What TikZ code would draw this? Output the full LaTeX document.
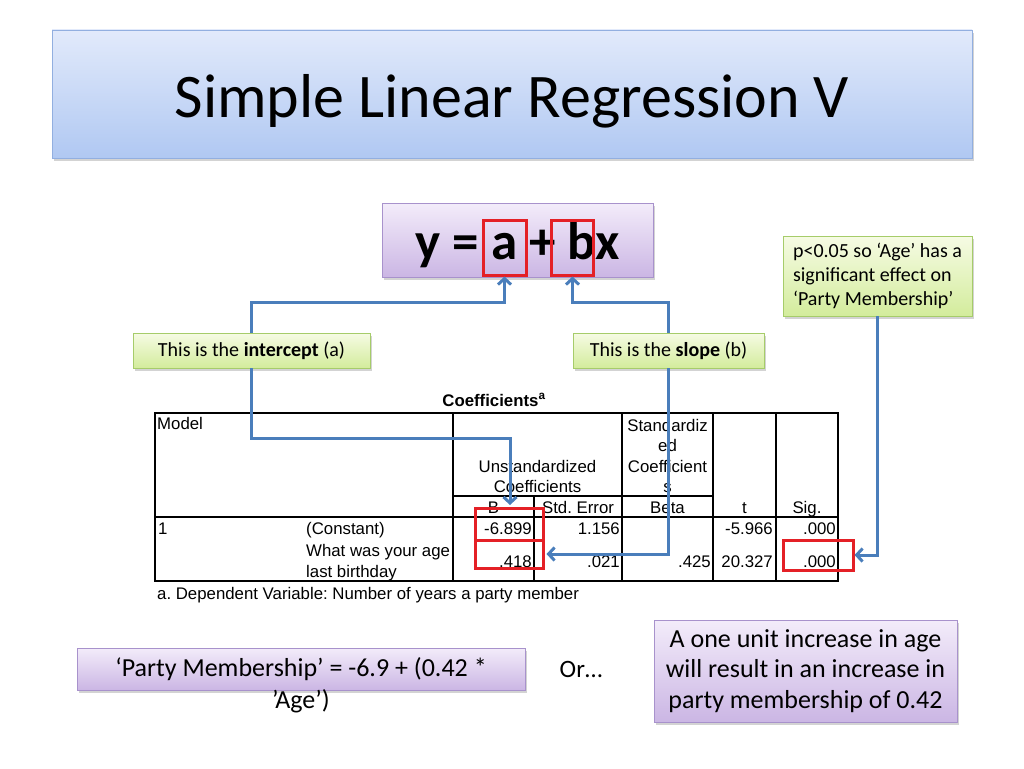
\documentclass[tikz,border=0pt]{standalone}
\usepackage{fontspec}
\setmainfont{Carlito}
\newfontfamily\tabfont{Liberation Sans}
\usetikzlibrary{arrows, arrows.meta, shadows, positioning}
\frenchspacing

\definecolor{linkblue}{RGB}{74,126,187}
\definecolor{boxred}{RGB}{228,32,38}
\definecolor{titletop}{RGB}{226,234,251}
\definecolor{titlebot}{RGB}{176,200,242}
\definecolor{titleline}{RGB}{146,175,224}
\definecolor{lilactop}{RGB}{243,236,250}
\definecolor{lilacbot}{RGB}{203,182,228}
\definecolor{lilacline}{RGB}{168,146,204}
\definecolor{notetop}{RGB}{246,251,228}
\definecolor{notebot}{RGB}{211,236,156}
\definecolor{noteline}{RGB}{166,204,106}

\begin{document}
\begin{tikzpicture}[x=1pt, y=-1pt, >={Straight Barb[length=6pt, width=13pt]},
    boxshadow/.style={drop shadow={opacity=.35, shadow xshift=2pt, shadow yshift=-3pt}},
    titlebox/.style={draw=titleline, top color=titletop, bottom color=titlebot, boxshadow},
    lilac/.style={draw=lilacline, top color=lilactop, bottom color=lilacbot, boxshadow, inner sep=0pt},
    note/.style={draw=noteline, top color=notetop, bottom color=notebot, boxshadow, inner sep=0pt, font=\fontsize{20}{24}\selectfont},
    hilite/.style={draw=boxred, line width=3pt, inner sep=0pt},
    link/.style={->, draw=linkblue, line width=3pt},
    cell/.style={inner sep=0pt, font=\tabfont\fontsize{16.8}{20.5}\selectfont},
    tabline/.style={line width=1.2pt}]
    \useasboundingbox (0,0) rectangle (1024,768);

    \node[titlebox, minimum width=920pt, minimum height=128pt] (title) at (512,94) {\fontsize{62}{70}\selectfont\raisebox{-7pt}[\height][\depth]{Simple Linear Regression V}};

    % the equation and its two parts
    \node[lilac, minimum width=271pt, minimum height=74pt] (eqn) at (517.5,240) {\fontsize{53}{60}\selectfont\bfseries\raisebox{-5pt}[\height][\depth]{y = a + bx}};
    \node[hilite, minimum width=43pt, minimum height=55pt] (abox) at (504.5,247.5) {};
    \node[hilite, minimum width=42pt, minimum height=55pt] (bbox) at (572.5,247.5) {};

    \node[note, minimum width=189pt, minimum height=80pt, align=left] (sig) at (877.5,276) {p<0.05 so ‘Age’ has a\\significant effect on\\‘Party Membership’};
    \node[note, minimum width=237pt, minimum height=35pt] (icpt) at (251.5,350.5) {This is the \textbf{intercept} (a)};
    \node[note, minimum width=191pt, minimum height=35pt] (slope) at (668.5,350.5) {This is the \textbf{slope} (b)};

    % coefficients table
    \draw[tabline] (155,413) rectangle (838,581);
    \draw[tabline] (155,517) -- (838,517);
    \draw[tabline] (453,496) -- (713,496);
    \foreach \x in {453,622,713,776}
        \draw[tabline] (\x,413) -- (\x,581);
    \draw[tabline] (534,496) -- (534,581);

    \node[cell, anchor=base] (coef) at (494,406) {\textbf{Coefficients}\textsuperscript{\textbf{a}}};
    \node[cell, anchor=base west] (model) at (157,429) {Model};
    \node[cell, anchor=base] (unstd) at (537.5,472) {Unstandardized};
    \node[cell, anchor=base] (unstdb) at (537.5,492) {Coefficients};
    \node[cell, anchor=base] (std) at (667.5,431) {Standardiz};
    \node[cell, anchor=base] (stdb) at (667.5,451) {ed};
    \node[cell, anchor=base] (stdc) at (667.5,472) {Coefficient};
    \node[cell, anchor=base] (stdd) at (667.5,492) {s};
    \node[cell, anchor=base] (hb) at (493.5,513) {B};
    \node[cell, anchor=base] (hse) at (578,513) {Std. Error};
    \node[cell, anchor=base] (hbeta) at (667.5,513) {Beta};
    \node[cell, anchor=base] (ht) at (744.5,513) {t};
    \node[cell, anchor=base] (hsig) at (807,513) {Sig.};

    \node[cell, anchor=base west] (one) at (158,534) {1};
    \node[cell, anchor=base west] (const) at (306,534) {(Constant)};
    \node[cell, anchor=base east] (cb) at (532,534) {-6.899};
    \node[cell, anchor=base east] (cse) at (620,534) {1.156};
    \node[cell, anchor=base east] (ct) at (773,534) {-5.966};
    \node[cell, anchor=base east] (csig) at (836,534) {.000};

    \node[cell, anchor=base west] (age) at (306,556) {What was your age};
    \node[cell, anchor=base west] (ageb) at (306,577) {last birthday};
    \node[cell, anchor=base east] (ab) at (532,567) {.418};
    \node[cell, anchor=base east] (ase) at (620,567) {.021};
    \node[cell, anchor=base east] (abeta) at (711,567) {.425};
    \node[cell, anchor=base east] (at) at (773,567) {20.327};
    \node[cell, anchor=base east] (asig) at (836,567) {.000};

    \node[cell, anchor=base west] (foot) at (157,599) {a. Dependent Variable: Number of years a party member};

    \node[hilite, minimum width=68pt, minimum height=32pt] (rb1) at (509,524) {};
    \node[hilite, minimum width=68pt, minimum height=28pt] (rb2) at (509,554) {};
    \node[hilite, minimum width=70pt, minimum height=30pt] (rb3) at (818,555) {};

    % connectors
    \coordinate (upbend) at (0,302);
    \coordinate (lowbend) at (0,438);
    \coordinate (btip) at (510,505);
    \draw[link] (icpt.north) -- (icpt.north |- upbend) -| (abox.south);
    \draw[link] (icpt.south) -- (icpt.south |- lowbend) -| (btip);
    \draw[link] (slope.north) -- (slope.north |- upbend) -| (bbox.south);
    \draw[link, shorten >=2pt] (slope.south) |- (rb2.east);
    \draw[link] (sig.south) |- (rb3.east);

    % bottom row
    \node[lilac, minimum width=448pt, minimum height=42pt, font=\fontsize{26}{30}\selectfont] (formula) at (301,669) {‘Party Membership’ = -6.9 + (0.42 *};
    \node[font=\fontsize{26}{30}\selectfont, inner sep=0pt] (formulab) at (301,701) {’Age’)};
    \node[font=\fontsize{25}{30}\selectfont, inner sep=0pt] (or) at (581,669) {Or…};
    \node[lilac, minimum width=303pt, minimum height=102pt, align=center, font=\fontsize{26}{30.5}\selectfont] (result) at (805.5,671) {A one unit increase in age\\will result in an increase in\\party membership of 0.42};
\end{tikzpicture}
\end{document}
